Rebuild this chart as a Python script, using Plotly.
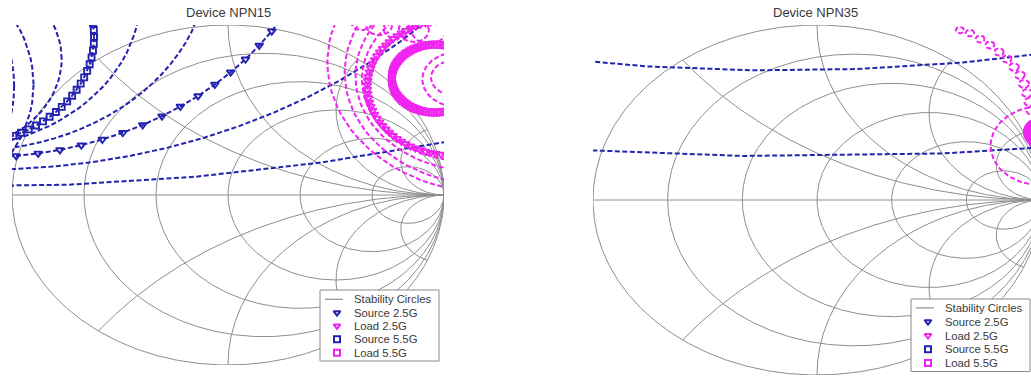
import numpy as np
import plotly.graph_objects as go

W, H = 1031, 377

# Smith chart grid lines
R_CIRCLES = [0.2, 0.5, 1.0, 2.0, 5.0]
X_ARCS = [0.5, 1.0, 2.0, 5.0]

# Stability circles in the reflection-coefficient plane: centre (re, im) and radius
# Device NPN15
npn15_src_re = [-1.18, -1.12, -1.20, -1.30, -1.32, -1.75, -2.00]
npn15_src_im = [9.32, 2.97, 1.37, 1.165, 0.80, 0.65, 0.64]
npn15_src_rad = [9.27, 2.82, 1.11, 0.894, 0.55, 0.85, 1.01]
npn15_load_re = [1.23, 1.20, 1.15, 1.10, 1.06, 1.04, 0.62, 0.70, 0.78, 0.86, 0.93]
npn15_load_im = [0.78, 0.72, 0.70, 0.68, 0.68, 0.69, 1.02, 1.00, 0.98, 0.97, 0.97]
npn15_load_rad = [0.77, 0.66, 0.56, 0.48, 0.16, 0.10, 0.05, 0.06, 0.06, 0.07, 0.08]
npn15_marked = {  # name: (re, im, radius)
    "Source 2.5G": (-1.16, 1.84, 1.62),
    "Load 2.5G": (1.045, 0.634, 0.40),
    "Source 5.5G": (-1.26, 0.93, 0.64),
    "Load 5.5G": (0.958, 0.685, 0.20),
}
# Device NPN35
npn35_src_re = [-0.17, -0.11]
npn35_src_im = [8.14, 14.41]
npn35_src_rad = [7.40, 14.16]
npn35_load_re = [0.638, 0.683, 0.728, 0.772, 0.813, 0.848, 0.879, 0.906, 0.924, 0.938, 0.95, 0.96, 1.00]
npn35_load_im = [0.971, 0.954, 0.920, 0.886, 0.846, 0.806, 0.760, 0.714, 0.663, 0.611, 0.56, 0.51, 0.31]
npn35_load_rad = [0.018, 0.019, 0.020, 0.020, 0.021, 0.021, 0.022, 0.022, 0.023, 0.023, 0.024, 0.024, 0.225]
npn35_marked = {
    "Load 2.5G": (1.02, 0.38, 0.08),
}

LEGEND_LABELS = ["Stability Circles", "Source 2.5G", "Load 2.5G", "Source 5.5G", "Load 5.5G"]

BLUE = "#2323b0"
MAGENTA = "#f024f0"
GRID = "#8e8e8e"
TEXT = "#3a3a3a"
FONT = "Liberation Sans, Arial, sans-serif"
DASH = "5px,2.5px"
LW = 2
N_PTS = 100

STYLE = {
    "Source 2.5G": (BLUE, "triangle-down-open", 7),
    "Load 2.5G": (MAGENTA, "triangle-down-open", 7),
    "Source 5.5G": (BLUE, "square-open", 6),
    "Load 5.5G": (MAGENTA, "square-open", 6),
}


def circle(cre, cim, rad, n=N_PTS):
    t = np.linspace(0, 2 * np.pi, n)
    return cre + rad * np.cos(t), cim + rad * np.sin(t)


def smith_grid():
    xs, ys = [], []

    def add(g):
        xs.extend(np.real(g).tolist() + [None])
        ys.extend(np.imag(g).tolist() + [None])

    t = np.linspace(0, 2 * np.pi, 721)
    add(np.exp(1j * t))
    for r in R_CIRCLES:
        add(r / (1 + r) + np.exp(1j * t) / (1 + r))
    rr = np.concatenate([[0.0], np.logspace(-3, 4, 600)])
    for x in X_ARCS:
        for s in (1, -1):
            z = rr + 1j * s * x
            add((z - 1) / (z + 1))
    add(np.array([-1.0, 1.0]) + 0j)
    return xs, ys


fig = go.Figure()
gx, gy = smith_grid()


def add_panel(xa, ya, src, load, marked):
    fig.add_trace(go.Scatter(x=gx, y=gy, mode="lines", line=dict(color=GRID, width=1),
                             xaxis=xa, yaxis=ya, showlegend=False, hoverinfo="skip"))
    for (cre, cim, rad), color in [(c, BLUE) for c in zip(*src)] + [(c, MAGENTA) for c in zip(*load)]:
        n = N_PTS if rad > 0.05 else 40
        cx, cy = circle(cre, cim, rad, n)
        fig.add_trace(go.Scatter(x=cx, y=cy, mode="lines",
                                 line=dict(color=color, width=LW, dash=DASH),
                                 xaxis=xa, yaxis=ya, showlegend=False, hoverinfo="skip"))
    for name, (cre, cim, rad) in marked.items():
        color, sym, size = STYLE[name]
        cx, cy = circle(cre, cim, rad)
        fig.add_trace(go.Scatter(x=cx, y=cy, mode="lines+markers",
                                 line=dict(color=color, width=LW, dash=DASH),
                                 marker=dict(symbol=sym, size=size, color=color, line=dict(width=1.9, color=color)),
                                 xaxis=xa, yaxis=ya, showlegend=False, hoverinfo="skip"))


add_panel("x", "y", (npn15_src_re, npn15_src_im, npn15_src_rad),
          (npn15_load_re, npn15_load_im, npn15_load_rad), npn15_marked)
add_panel("x2", "y2", (npn35_src_re, npn35_src_im, npn35_src_rad),
          (npn35_load_re, npn35_load_im, npn35_load_rad), npn35_marked)


# Legend boxes drawn on a full-figure overlay axis in pixel units
def add_legend(left, top, right, bottom, rows):
    fig.add_trace(go.Scatter(x=[left, right, right, left, left], y=[top, top, bottom, bottom, top],
                             mode="lines", fill="toself", fillcolor="white",
                             line=dict(color="#8a8a8a", width=1),
                             xaxis="x3", yaxis="y3", showlegend=False, hoverinfo="skip"))
    fig.add_trace(go.Scatter(x=[left + 5, left + 23], y=[rows[0], rows[0]], mode="lines",
                             line=dict(color=GRID, width=1.2),
                             xaxis="x3", yaxis="y3", showlegend=False, hoverinfo="skip"))
    for label, yy in zip(LEGEND_LABELS[1:], rows[1:]):
        color, sym, size = STYLE[label]
        fig.add_trace(go.Scatter(x=[left + 17], y=[yy], mode="markers",
                                 marker=dict(symbol=sym, size=6, color=color, line=dict(width=2, color=color)),
                                 xaxis="x3", yaxis="y3", showlegend=False, hoverinfo="skip"))
    for label, yy in zip(LEGEND_LABELS, rows):
        fig.add_annotation(x=left + 32, y=yy, xref="x3", yref="y3", text=label, showarrow=False,
                           xanchor="left", yanchor="middle",
                           font=dict(family=FONT, size=11.3, color=TEXT))


add_legend(320, 290, 439, 361, [299.3, 312.7, 325.9, 339.3, 352.7])
add_legend(911, 299, 1030, 371.5, [307.9, 321.7, 335.5, 349.3, 363.0])

for xc, title in [(228, "Device NPN15"), (815, "Device NPN35")]:
    fig.add_annotation(x=xc, y=12, xref="x3", yref="y3", text=title, showarrow=False,
                       xanchor="center", yanchor="middle",
                       font=dict(family=FONT, size=13, color=TEXT))

hidden = dict(visible=False, showgrid=False, zeroline=False, fixedrange=True)
fig.update_layout(
    width=W, height=H, margin=dict(l=0, r=0, t=0, b=0),
    paper_bgcolor="white", plot_bgcolor="rgba(0,0,0,0)",
    showlegend=False,
    xaxis=dict(domain=[12 / W, 444 / W], range=[-1, 1], **hidden),
    yaxis=dict(domain=[1 - 365 / H, 1 - 25 / H], range=[-1, 1], **hidden),
    xaxis2=dict(domain=[593 / W, 1.0], range=[-1, (W - 817) / 224], **hidden),
    yaxis2=dict(domain=[1 - 375 / H, 1 - 25 / H], range=[-1, 1], **hidden),
    xaxis3=dict(domain=[0, 1], range=[0, W], **hidden),
    yaxis3=dict(domain=[0, 1], range=[H, 0], **hidden),
)

fig.write_html("out.html")
